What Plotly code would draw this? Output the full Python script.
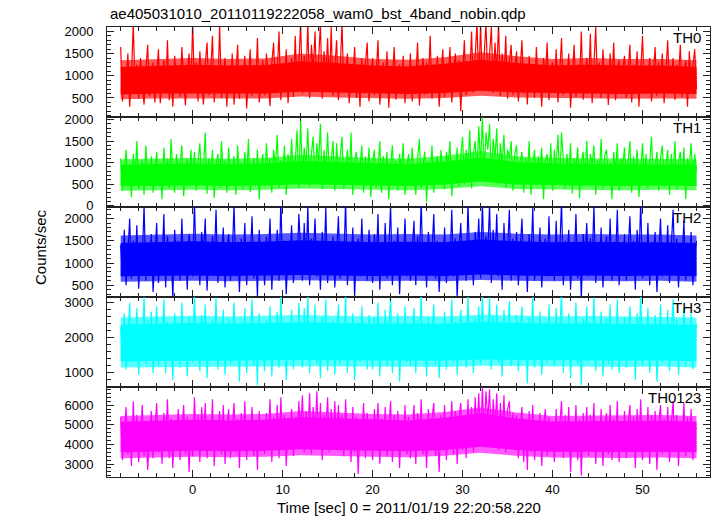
import plotly.graph_objects as go
from plotly.subplots import make_subplots

# ---------------- data ----------------
T0 = -8.0          # time of the first bin [sec]
DT = 0.2           # bin width [sec]
CORE_T = [-8, -4, 0, 4, 8, 12, 16, 20, 24, 28, 32, 36, 40, 44, 48, 52, 56]

PANELS = ["TH0", "TH1", "TH2", "TH3", "TH0123"]

th0 = [1650, 420, 1100, 750, 1500, 300, 980, 2200, 600, 1250, 480, 1400, 820, 350, 1150, 1700, 540, 950, 1300, 400,
       1050, 1600, 380, 900, 1350, 620, 1800, 450, 1000, 300, 1450, 780, 1200, 520, 1650, 880, 330, 1100, 1500, 600,
       2200, 700, 1300, 420, 1550, 900, 350, 1250, 1750, 560, 1050, 1900, 400, 1200, 680, 2150, 500, 1000, 1400, 300,
       1200, 600, 1500, 350, 950, 1700, 480, 1100, 820, 1450, 260, 1000, 1600, 540, 1250, 720, 1850, 400, 980, 1350,
       560, 1500, 850, 320, 1300, 1750, 600, 1050, 2000, 450, 1200, 780, 1600, 380, 1000, 1400, 520, 1900, 700, 1250,
       2200, 600, 1450, 900, 2200, 500, 1700, 1100, 2000, 650, 1350, 2200, 480, 1550, 950, 1850, 700, 2100, 550, 1300,
       1800, 450, 1150, 2200, 620, 1000, 1500, 380, 1250, 850, 1650, 500, 1100, 300, 1400, 780, 1200, 1750, 420, 950,
       1400, 560, 1050, 1800, 350, 900, 1300, 700, 1550, 280, 1150, 850, 1650, 460, 1000, 1250, 600, 1450, 380, 1100,
       720, 1500, 420, 1200, 950, 1750, 330, 1050, 1400, 580, 1300, 850, 1900, 480, 1100, 650, 1450, 300, 1000, 1600,
       520, 1250, 900, 1650, 400, 1150, 1500, 680, 1350, 200, 1050, 1800, 560, 1300, 950, 2000, 620, 1450, 2200, 750,
       2200, 700, 1600, 2200, 850, 1400, 2100, 620, 1750, 1050, 2200, 540, 1500, 900, 1900, 480, 1300, 1700, 560, 1150,
       1550, 420, 1100, 1800, 600, 1250, 350, 1450, 880, 1200, 500, 1650, 760, 1050, 300, 1400, 950, 1750, 450, 1100,
       1300, 620, 1600, 400, 1050, 1850, 560, 1200, 900, 1500, 280, 1100, 1700, 520, 1250, 800, 2000, 460, 1000, 1400,
       650, 1950, 380, 1150, 2100, 700, 1300, 500, 1600, 950, 1200, 340, 1500, 820, 1750, 450, 1050, 1350, 600, 1150,
       1450, 500, 1050, 1700, 400, 1250, 880, 1550, 300, 1100, 1900, 620, 1200, 760, 1400, 420, 1000, 1650, 550, 1300,
       850, 1500, 380, 1200, 1800, 600, 1050, 1400, 460, 1250, 950, 1700, 520, 1100, 1350, 300, 1550, 800, 1200, 1600,
       700]
th0_core_lo = [580, 600, 600, 600, 600, 640, 620, 600, 590, 610, 660, 620, 600, 600, 590, 600, 590]
th0_core_hi = [1200, 1230, 1250, 1230, 1240, 1330, 1290, 1230, 1210, 1270, 1360, 1290, 1230, 1250, 1230, 1230, 1200]
th0_band_lo = [470, 490, 490, 490, 490, 530, 510, 490, 480, 500, 550, 510, 490, 490, 480, 490, 480]
th0_band_hi = [1350, 1380, 1400, 1380, 1390, 1500, 1450, 1380, 1360, 1420, 1530, 1440, 1380, 1400, 1380, 1380, 1350]

th1 = [1100, 350, 800, 1300, 450, 950, 200, 1200, 600, 1500, 380, 850, 1050, 250, 1400, 700, 500, 1150, 300, 900,
       1250, 480, 1000, 150, 1350, 650, 1100, 400, 1550, 750, 300, 1200, 550, 950, 1400, 220, 850, 1100, 450, 1300,
       600, 1250, 350, 1000, 1450, 500, 800, 1700, 280, 1100, 650, 1300, 180, 950, 1200, 420, 1500, 700, 1050, 300,
       1350, 520, 900, 1150, 250, 1400, 700, 1000, 380, 1250, 600, 1550, 320, 850, 1100, 460, 1300, 150, 950, 1200,
       480, 1450, 750, 1100, 300, 1300, 880, 1650, 420, 1050, 600, 1400, 250, 1200, 700, 1550, 500, 1000, 1750, 400,
       2000, 650, 1350, 900, 1800, 450, 1200, 1600, 550, 1450, 1000, 1900, 380, 1300, 800, 1700, 600, 1150, 1500, 350,
       1450, 700, 1100, 1600, 400, 950, 1300, 550, 1700, 250, 1050, 1250, 480, 900, 1400, 300, 1150, 650, 1350, 200,
       1000, 1300, 420, 850, 1500, 300, 1150, 700, 1250, 150, 950, 1400, 550, 1050, 350, 1200, 800, 1450, 250, 900,
       1200, 500, 1350, 750, 250, 1100, 1550, 400, 950, 1250, 80, 1050, 650, 1400, 300, 900, 1150, 520, 1300, 700,
       380, 1250, 900, 1500, 220, 1050, 700, 1350, 450, 1150, 1600, 500, 1300, 850, 1750, 400, 1200, 1500, 650, 1850,
       900, 2050, 750, 1700, 1300, 1900, 600, 1550, 1100, 1800, 500, 1450, 950, 1650, 420, 1300, 1100, 1500, 350, 1200,
       1400, 550, 1000, 1250, 300, 1100, 700, 1500, 250, 950, 1300, 480, 1150, 800, 1350, 150, 1050, 1200, 600, 1450,
       350, 1300, 850, 1650, 500, 1700, 1000, 400, 1200, 750, 1450, 280, 1100, 900, 1350, 180, 1000, 1250, 620, 1500,
       450, 1200, 950, 1400, 250, 1050, 700, 1550, 400, 1150, 1300, 550, 1000, 150, 1250, 800, 1450, 350, 1100, 900,
       1350, 480, 1000, 1500, 300, 1150, 750, 1300, 200, 950, 1450, 600, 1200, 400, 1050, 1600, 500, 900, 1250, 350,
       1100, 1400, 450, 950, 1300, 250, 1200, 700, 1500, 380, 1000, 1250, 550, 1350, 150, 1100, 850, 1450, 600, 1200,
       800]
th1_core_lo = [450, 460, 470, 460, 470, 500, 480, 470, 460, 490, 560, 490, 470, 470, 460, 470, 460]
th1_core_hi = [950, 960, 980, 960, 980, 1040, 1010, 980, 960, 1020, 1120, 1010, 980, 970, 960, 960, 950]
th1_band_lo = [350, 360, 370, 360, 370, 400, 380, 370, 360, 390, 450, 390, 370, 370, 360, 370, 360]
th1_band_hi = [1080, 1090, 1110, 1090, 1110, 1180, 1140, 1110, 1090, 1160, 1270, 1140, 1110, 1100, 1090, 1090, 1080]

th2 = [1400, 700, 1750, 500, 1200, 2000, 650, 1500, 900, 1850, 420, 1300, 1050, 2300, 600, 1450, 800, 1650, 350, 1200,
       1900, 550, 1350, 1000, 2100, 450, 1600, 850, 1250, 200, 1750, 950, 1500, 600, 2000, 750, 1300, 400, 1650, 1100,
       700, 2400, 900, 1450, 500, 1700, 1150, 2000, 380, 1350, 800, 1600, 1050, 2200, 550, 1300, 900, 1800, 450, 1250,
       1650, 600, 1200, 2300, 700, 1450, 350, 1550, 950, 1900, 500, 1300, 1100, 2050, 650, 1400, 250, 1750, 850, 1200,
       500, 1600, 1050, 2000, 400, 1350, 850, 1750, 600, 2400, 900, 1500, 300, 1250, 1000, 1850, 550, 1400, 750, 2100,
       1300, 600, 1900, 850, 2300, 500, 1550, 1100, 2000, 700, 1450, 400, 1700, 950, 2250, 550, 1350, 800, 1600, 450,
       1200, 2050, 650, 1500, 1000, 2400, 500, 1350, 850, 1800, 230, 1250, 1550, 700, 2000, 900, 1400, 600, 1750, 1050,
       550, 1650, 950, 2100, 400, 1400, 800, 1900, 650, 1300, 2300, 500, 1500, 1000, 1800, 300, 1250, 900, 2000, 700,
       1450, 600, 1200, 1950, 500, 1600, 1050, 2400, 750, 1350, 450, 1700, 950, 1250, 2100, 650, 1500, 350, 1300, 850,
       1800, 550, 1400, 1000, 2200, 700, 1550, 220, 1250, 1900, 800, 1450, 600, 2350, 950, 1350, 500, 1700, 1100, 2000,
       650, 2400, 900, 1600, 1250, 2300, 550, 1750, 1000, 2100, 700, 1450, 400, 1900, 850, 1300, 2200, 600, 1550, 950,
       1700, 500, 1300, 2000, 750, 1450, 350, 1650, 1000, 2250, 600, 1350, 850, 1800, 450, 1200, 1550, 700, 2050, 900,
       1400, 600, 1950, 850, 1300, 2400, 500, 1500, 1050, 1750, 400, 1250, 950, 2100, 650, 1450, 200, 1650, 1100, 1900,
       700, 1550, 1000, 2300, 550, 1350, 850, 1800, 450, 1200, 1600, 750, 2000, 600, 1400, 1050, 2200, 500, 1300, 900,
       1650, 600, 1250, 2050, 800, 1500, 400, 1750, 1000, 2400, 650, 1350, 900, 1900, 500, 1450, 1100, 1700, 350, 1300,
       2000, 700, 1400, 950, 1850, 550, 1250, 2200, 800, 1550, 450, 1300, 1050, 1950, 600, 1450, 900, 1700, 500, 1200,
       1500]
th2_core_lo = [700, 710, 720, 710, 720, 730, 720, 710, 720, 710, 740, 720, 710, 720, 710, 720, 700]
th2_core_hi = [1450, 1470, 1490, 1470, 1480, 1510, 1490, 1470, 1480, 1470, 1530, 1490, 1470, 1480, 1470, 1470, 1450]
th2_band_lo = [580, 590, 600, 590, 600, 610, 600, 590, 600, 590, 620, 600, 590, 600, 590, 600, 580]
th2_band_hi = [1620, 1640, 1660, 1640, 1650, 1680, 1660, 1640, 1650, 1640, 1700, 1660, 1640, 1650, 1640, 1640, 1620]

th3 = [2300, 1400, 2700, 1100, 1900, 3000, 1300, 2400, 1650, 2850, 950, 2100, 1750, 3200, 1250, 2500, 1500, 2750, 1000, 2000,
       2900, 1200, 2200, 1600, 3100, 1000, 2450, 1450, 2000, 800, 2700, 1550, 2350, 1150, 3000, 1350, 2150, 900, 2600, 1800,
       1300, 3300, 1600, 2300, 1050, 2650, 1850, 2950, 850, 2100, 1450, 2500, 1700, 3150, 1100, 2200, 1500, 2800, 950, 2000,
       2550, 1250, 1900, 3000, 1350, 2300, 750, 2450, 1600, 2850, 1000, 2100, 1800, 3100, 1200, 2250, 650, 2700, 1500, 2000,
       1050, 2500, 1700, 2900, 900, 2200, 1450, 2750, 1150, 3300, 1550, 2350, 800, 2050, 1650, 2800, 1100, 2250, 1350, 3000,
       2100, 1150, 2850, 1500, 3200, 1000, 2400, 1750, 2950, 1250, 2300, 850, 2600, 1600, 3100, 1050, 2200, 1400, 2500, 950,
       2000, 2950, 1250, 2350, 1650, 3250, 1000, 2150, 1450, 2700, 800, 2050, 2450, 1300, 2900, 1550, 2250, 1100, 2650, 1700,
       1100, 2600, 1600, 3000, 900, 2250, 1450, 2800, 1200, 2100, 3200, 1000, 2350, 1700, 2700, 750, 2050, 1500, 2900, 1300,
       2400, 1200, 2000, 2850, 1000, 2500, 1700, 3300, 1350, 2150, 900, 2600, 1550, 2050, 2950, 1250, 2350, 850, 2100, 1600,
       2750, 1100, 2250, 1650, 3100, 1300, 2450, 950, 2050, 2800, 1450, 2300, 1150, 3200, 1600, 2150, 1000, 2600, 1800, 2900,
       1250, 3300, 1500, 2450, 2000, 3150, 1100, 2650, 1700, 2950, 1300, 2300, 900, 2800, 1550, 2100, 3050, 1200, 2400, 1650,
       2650, 1050, 2100, 2900, 1350, 2350, 700, 2550, 1600, 3200, 1150, 2200, 1500, 2750, 950, 2000, 2450, 1300, 2950, 1550,
       2300, 1200, 2850, 1450, 2150, 3300, 1000, 2400, 1750, 2700, 850, 2050, 1600, 3000, 1250, 2300, 650, 2550, 1800, 2900,
       1300, 2450, 1700, 3150, 1050, 2200, 1500, 2750, 900, 2000, 2550, 1250, 2950, 1100, 2300, 1650, 3100, 1000, 2150, 1550,
       2600, 1150, 2100, 2900, 1400, 2350, 800, 2700, 1650, 3300, 1200, 2250, 1500, 2850, 1000, 2400, 1800, 2650, 750, 2100,
       2950, 1300, 2300, 1600, 2800, 1050, 2150, 3100, 1450, 2500, 950, 2200, 1700, 2850, 1200, 2350, 1550, 2700, 1100, 2000,
       2400]
th3_core_lo = [1330, 1350, 1360, 1350, 1360, 1370, 1360, 1350, 1360, 1350, 1380, 1360, 1350, 1360, 1350, 1360, 1330]
th3_core_hi = [2370, 2400, 2420, 2400, 2410, 2440, 2420, 2400, 2410, 2400, 2450, 2420, 2400, 2410, 2400, 2400, 2370]
th3_band_lo = [1150, 1170, 1180, 1170, 1180, 1190, 1180, 1170, 1180, 1170, 1200, 1180, 1170, 1180, 1170, 1180, 1150]
th3_band_hi = [2580, 2610, 2630, 2610, 2620, 2650, 2630, 2610, 2620, 2610, 2660, 2630, 2610, 2620, 2610, 2610, 2580]

th0123 = [5400, 3200, 4600, 5900, 3500, 5100, 2900, 6200, 3800, 5500, 3100, 4800, 6000, 3400, 5200, 2700, 4500, 5700, 3300, 5000,
          6100, 3600, 4900, 3000, 5600, 4100, 6300, 3300, 5300, 2800, 5000, 3700, 5800, 3200, 4700, 6000, 3500, 5400, 2600, 4800,
          3400, 6400, 4000, 5500, 3100, 5900, 4300, 6100, 3300, 5200, 3800, 6300, 2900, 5000, 4200, 5700, 3500, 6000, 3000, 4900,
          5800, 3300, 4700, 6100, 3600, 5300, 2800, 5600, 4000, 6200, 3200, 5000, 4400, 5900, 3400, 5200, 2700, 5700, 3700, 4900,
          3500, 5600, 4200, 6300, 3100, 5400, 3900, 6000, 3300, 6400, 4100, 5500, 2900, 5100, 4000, 5800, 3400, 5300, 3800, 6200,
          4600, 6500, 3600, 5700, 4300, 6600, 3500, 5900, 4400, 6700, 3800, 6100, 3200, 5500, 4700, 6400, 3600, 5800, 4100, 6200,
          3700, 6000, 4300, 5500, 3400, 6300, 4000, 5200, 3100, 5900, 3600, 5400, 2500, 5000, 4200, 6100, 3300, 5600, 3900, 5300,
          3200, 5800, 4100, 6100, 3000, 5300, 3700, 5900, 3400, 5000, 6200, 3100, 5500, 4000, 5700, 2800, 5100, 3800, 6000, 3500,
          5400, 3300, 4800, 6000, 3000, 5600, 4200, 6300, 3500, 5100, 2800, 5800, 3900, 5300, 6100, 3400, 5000, 2600, 5500, 4100,
          6000, 3200, 5200, 4000, 6200, 3500, 5700, 3000, 5300, 6100, 3700, 5500, 3300, 6300, 4200, 5900, 3600, 6400, 4500, 6600,
          4000, 6900, 4500, 6700, 5200, 6800, 3900, 6300, 4800, 6600, 3700, 6100, 4400, 6500, 3600, 5800, 6200, 3800, 5600, 4300,
          5500, 3300, 4900, 5900, 3100, 5300, 2700, 5700, 3600, 6000, 3200, 5100, 4100, 5600, 2900, 5000, 5800, 3400, 5400, 3800,
          5200, 3100, 5800, 3700, 5000, 6200, 3300, 5500, 4000, 5900, 2600, 5100, 3600, 6000, 3200, 5300, 2400, 5600, 3900, 5900,
          3400, 5500, 4000, 6100, 3000, 5200, 3700, 5800, 2900, 5000, 5600, 3500, 6000, 3200, 5300, 4100, 6200, 3100, 5100, 3800,
          5700, 3300, 5000, 6000, 3600, 5400, 2800, 5800, 3900, 6300, 3200, 5200, 3700, 5900, 3000, 5500, 4200, 5700, 2700, 5100,
          6000, 3500, 5300, 3900, 5900, 3100, 5000, 6200, 3600, 5500, 2900, 5200, 4000, 6100, 3400, 5400, 3800, 5800, 3200, 4900,
          4800]
th0123_core_lo = [3600, 3650, 3670, 3650, 3670, 3750, 3700, 3670, 3650, 3720, 3880, 3720, 3630, 3630, 3610, 3630, 3600]
th0123_core_hi = [5150, 5200, 5250, 5220, 5250, 5380, 5320, 5250, 5220, 5350, 5580, 5320, 5150, 5180, 5180, 5200, 5150]
th0123_band_lo = [3300, 3350, 3370, 3350, 3370, 3450, 3400, 3370, 3350, 3420, 3580, 3420, 3330, 3330, 3310, 3330, 3300]
th0123_band_hi = [5450, 5500, 5550, 5520, 5550, 5700, 5620, 5550, 5520, 5650, 5880, 5620, 5450, 5480, 5480, 5500, 5450]

SERIES = [th0, th1, th2, th3, th0123]
CORE_LO = [th0_core_lo, th1_core_lo, th2_core_lo, th3_core_lo, th0123_core_lo]
CORE_HI = [th0_core_hi, th1_core_hi, th2_core_hi, th3_core_hi, th0123_core_hi]
BAND_LO = [th0_band_lo, th1_band_lo, th2_band_lo, th3_band_lo, th0123_band_lo]
BAND_HI = [th0_band_hi, th1_band_hi, th2_band_hi, th3_band_hi, th0123_band_hi]

# axis settings per panel
Y_RANGES = [[70, 2100], [-30, 2060], [236, 2260], [597, 3164], [2340, 6920]]
Y_DTICK = [500, 500, 500, 1000, 1000]
Y_MINOR = [100, 100, 100, 200, 200]
COLORS = ["#ff0000", "#00ff00", "#0000ff", "#00ffff", "#ff00ff"]
BAND_COLORS = ["rgba(255,0,0,0.65)", "rgba(0,255,0,0.65)", "rgba(0,0,255,0.65)",
               "rgba(0,255,255,0.65)", "rgba(255,0,255,0.65)"]

X_RANGE = [-9.52, 57.5]

# ---------------- figure ----------------
W, H = 717, 516
ML, MR, MT, MB = 107, 7, 27, 39
PH = H - MT - MB
PW = W - ML - MR
FONT = "Liberation Sans, Arial, Helvetica, sans-serif"
AXC = "#222222"

fig = make_subplots(rows=5, cols=1, shared_xaxes=True, vertical_spacing=0)

n = len(PANELS)
for i in range(n):
    row = i + 1
    vals = SERIES[i]
    times = [T0 + DT * k for k in range(len(vals))]
    cx = CORE_T + CORE_T[::-1]
    fig.add_trace(go.Scatter(x=cx, y=BAND_HI[i] + BAND_LO[i][::-1], mode="lines", fill="toself",
                             fillcolor=BAND_COLORS[i], line=dict(width=0, color=COLORS[i]),
                             hoverinfo="skip", showlegend=False), row=row, col=1)
    fig.add_trace(go.Scatter(x=cx, y=CORE_HI[i] + CORE_LO[i][::-1], mode="lines", fill="toself",
                             fillcolor=COLORS[i], line=dict(width=0, color=COLORS[i]),
                             hoverinfo="skip", showlegend=False), row=row, col=1)
    fig.add_trace(go.Scatter(x=times, y=vals, mode="lines",
                             line=dict(width=1.2, color=COLORS[i]),
                             showlegend=False), row=row, col=1)

    top = 1 - i / n
    bot = 1 - (i + 1) / n
    yname = "yaxis" if i == 0 else f"yaxis{row}"
    xname = "xaxis" if i == 0 else f"xaxis{row}"
    fig.layout[yname].update(
        domain=[bot, top], range=Y_RANGES[i], dtick=Y_DTICK[i], tick0=0,
        ticks="inside", ticklen=7, tickwidth=1, tickcolor=AXC,
        minor=dict(dtick=Y_MINOR[i], tick0=0, ticks="inside", ticklen=4, tickcolor=AXC, tickwidth=1),
        mirror="allticks", showline=True, linecolor=AXC, linewidth=1,
        showgrid=False, zeroline=False, automargin=False,
        tickfont=dict(family=FONT, size=13, color="black"),
        ticklabelstandoff=10,
    )
    fig.layout[xname].update(
        range=X_RANGE, dtick=10, tick0=0,
        ticks="inside", ticklen=7, tickwidth=1, tickcolor=AXC,
        minor=dict(dtick=2, tick0=0, ticks="inside", ticklen=4, tickcolor=AXC, tickwidth=1),
        mirror="allticks", showline=True, linecolor=AXC, linewidth=1,
        showgrid=False, zeroline=False, automargin=False,
        showticklabels=(i == n - 1),
        tickfont=dict(family=FONT, size=13, color="black"),
        ticklabelstandoff=0,
    )
    fig.add_annotation(xref="paper", yref="paper",
                       x=(703 - ML) / PW, y=top - 10 / PH,
                       xanchor="right", yanchor="middle", showarrow=False,
                       text=PANELS[i], font=dict(family=FONT, size=15, color="black"))

fig.add_annotation(xref="paper", yref="paper", x=(108 - ML) / PW, y=1 + (MT - 13) / PH,
                   xanchor="left", yanchor="middle", showarrow=False,
                   text="ae405031010_20110119222058_wam0_bst_4band_nobin.qdp",
                   font=dict(family=FONT, size=15, color="black"))
fig.add_annotation(xref="paper", yref="paper", x=(40 - ML) / PW, y=(H - MB - 247) / PH,
                   xanchor="center", yanchor="middle", showarrow=False, textangle=-90,
                   text="Counts/sec", font=dict(family=FONT, size=15, color="black"))
fig.add_annotation(xref="paper", yref="paper", x=0.5, y=-(507 - (H - MB)) / PH,
                   xanchor="center", yanchor="middle", showarrow=False,
                   text="Time [sec] 0 = 2011/01/19 22:20:58.220",
                   font=dict(family=FONT, size=15, color="black"))

fig.update_layout(width=W, height=H, margin=dict(l=ML, r=MR, t=MT, b=MB, pad=0, autoexpand=False),
                  paper_bgcolor="white", plot_bgcolor="white", showlegend=False)

fig.write_html("out.html", config={"displayModeBar": False},
               post_script="document.body.style.margin='0';document.body.style.overflow='hidden';")
